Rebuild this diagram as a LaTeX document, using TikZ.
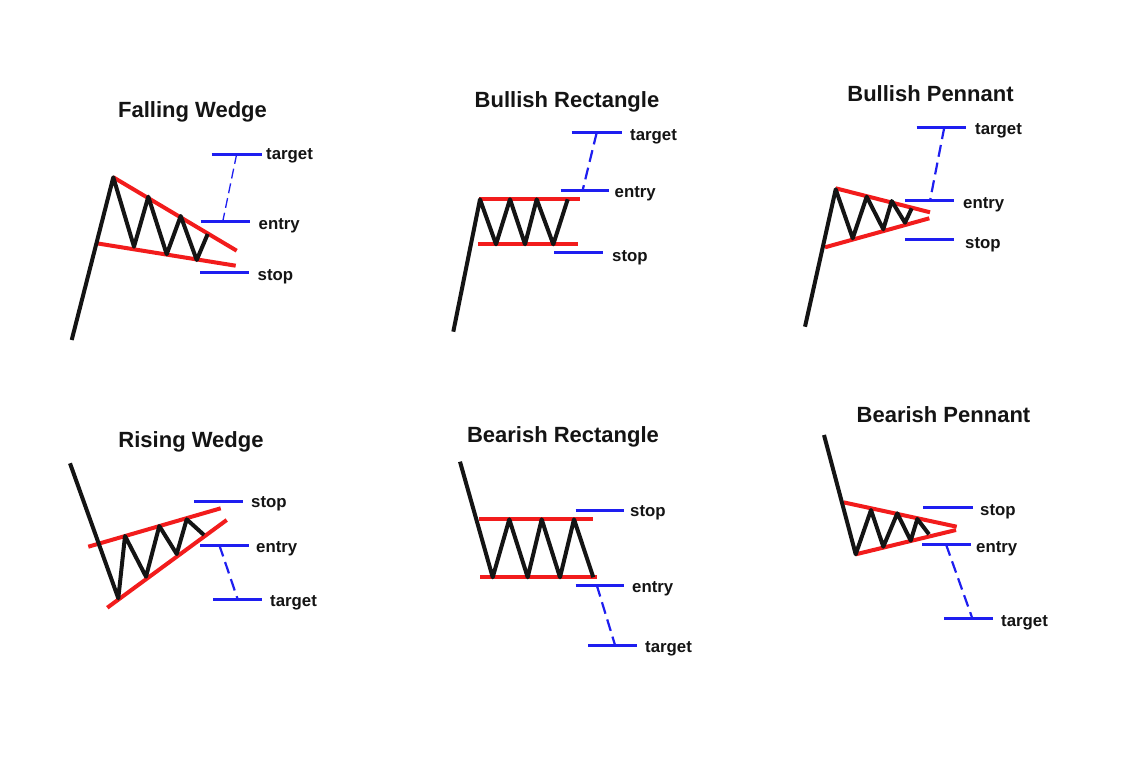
\documentclass[tikz,border=0pt]{standalone}
\usepackage{fontspec}
\setmainfont{Liberation Sans}
\definecolor{chred}{HTML}{F21C1C}
\definecolor{chblue}{HTML}{1E1EF0}
\definecolor{ink}{HTML}{141414}
\begin{document}
\begin{tikzpicture}[x=1pt,y=-1pt,
  price/.style={line width=4pt, ink, line join=round, line cap=butt},
  trend/.style={line width=4pt, chred},
  lvl/.style={line width=3pt, chblue},
  proj/.style={line width=2.2pt, chblue, dash pattern=on 12pt off 6pt},
  projthin/.style={line width=1.3pt, chblue, dash pattern=on 10pt off 5pt},
  ttl/.style={font=\bfseries\fontsize{22}{24}\selectfont, text=ink, inner sep=0pt, text height=15.8pt, text depth=4.6pt, yshift=-4pt},
  lbl/.style={font=\bfseries\fontsize{16.8}{18}\selectfont, text=ink, anchor=west, inner sep=0pt, text height=12.1pt, text depth=3.5pt, yshift=-3pt}]
\useasboundingbox[fill=white] (0,0) rectangle (1140,760);

% ---------- Falling Wedge ----------
\node[ttl] (t1) at (192.5,108) {Falling Wedge};
\draw[trend] (113.3,177.3) -- (236.7,250.7);
\draw[trend] (96.7,243.3) -- (235.7,265.7);
\draw[price] (71.7,340) -- (113.3,177.3) -- (134,246.7) -- (148.3,196.7) -- (166.7,254.3) -- (180.7,216) -- (196.7,260) -- (207.7,234);
\draw[lvl] (211.7,154) -- (261.7,154);
\draw[lvl] (200.7,221.7) -- (250,221.7);
\draw[lvl] (200,272.7) -- (249.3,272.7);
\draw[projthin] (236.7,154) -- (222.7,221.7);
\node[lbl] (a1) at (266,152.3) {target};
\node[lbl] (b1) at (258.5,222) {entry};
\node[lbl] (c1) at (257.5,273) {stop};

% ---------- Bullish Rectangle ----------
\node[ttl] (t2) at (567,98.3) {Bullish Rectangle};
\draw[trend] (479.3,199.3) -- (580,199.3);
\draw[trend] (478.3,244.3) -- (578.3,244.3);
\draw[price] (453.3,331.7) -- (480,199.3) -- (496,244.3) -- (510,199.3) -- (525,244.3) -- (536.7,199.3) -- (553.3,244.3) -- (567.7,199.3);
\draw[lvl] (571.7,132.7) -- (621.7,132.7);
\draw[lvl] (560.7,190) -- (609.3,190);
\draw[lvl] (554,252.7) -- (603.3,252.7);
\draw[proj] (596.7,132.7) -- (582.7,190);
\node[lbl] (a2) at (630,132.7) {target};
\node[lbl] (b2) at (614.5,190) {entry};
\node[lbl] (c2) at (612,254) {stop};

% ---------- Bullish Pennant ----------
\node[ttl] (t3) at (930.5,91.7) {Bullish Pennant};
\draw[trend] (835.7,188.3) -- (930,212.3);
\draw[trend] (825,247.3) -- (929.3,218.3);
\draw[price] (805,326.7) -- (835.7,189.3) -- (852.7,238.3) -- (866.7,196.7) -- (883.3,229.3) -- (891.7,201) -- (905,222.7) -- (911.7,208.3);
\draw[lvl] (916.7,127.3) -- (966,127.3);
\draw[lvl] (905,200.7) -- (954.3,200.7);
\draw[lvl] (905,239.3) -- (954.3,239.3);
\draw[proj] (944.3,127.3) -- (930,200.7);
\node[lbl] (a3) at (975,127.3) {target};
\node[lbl] (b3) at (963,200.7) {entry};
\node[lbl] (c3) at (965,240.7) {stop};

% ---------- Rising Wedge ----------
\node[ttl] (t4) at (191,438.3) {Rising Wedge};
\draw[trend] (88.3,546.7) -- (220.7,508.3);
\draw[trend] (107.3,607.7) -- (226.7,520);
\draw[price] (70,463.3) -- (118.3,598.3) -- (125,536) -- (146,576.7) -- (159.3,526) -- (176.7,554) -- (186.7,519.3) -- (204,535);
\draw[lvl] (194,501.7) -- (243.3,501.7);
\draw[lvl] (200,545) -- (249.3,545);
\draw[lvl] (213.3,599.3) -- (262.3,599.3);
\draw[proj] (219.3,545) -- (237.7,599.3);
\node[lbl] (a4) at (251,500) {stop};
\node[lbl] (b4) at (256,545) {entry};
\node[lbl] (c4) at (270,599.3) {target};

% ---------- Bearish Rectangle ----------
\node[ttl] (t5) at (563,433.3) {Bearish Rectangle};
\draw[trend] (479.3,519.3) -- (593.3,519.3);
\draw[trend] (480,577.3) -- (596.7,577.3);
\draw[price] (460,461.7) -- (492.7,577.3) -- (509.3,519.3) -- (527.7,577.3) -- (541.7,519.3) -- (560,577.3) -- (574,519.3) -- (593.3,577.3);
\draw[lvl] (575.7,510) -- (624,510);
\draw[lvl] (575.7,585) -- (624,585);
\draw[lvl] (588.3,645) -- (636.7,645);
\draw[proj] (596.7,585) -- (615,645);
\node[lbl] (a5) at (630,509.3) {stop};
\node[lbl] (b5) at (632,585) {entry};
\node[lbl] (c5) at (645,645) {target};

% ---------- Bearish Pennant ----------
\node[ttl] (t6) at (943.5,413.3) {Bearish Pennant};
\draw[trend] (843.3,502.3) -- (956.7,526.7);
\draw[trend] (855.7,554.3) -- (956,530);
\draw[price] (824,435) -- (855.7,554.3) -- (871,510) -- (883.3,546.7) -- (897.3,513.3) -- (910.7,540.7) -- (917.3,519) -- (929,534.3);
\draw[lvl] (923.3,507.7) -- (972.7,507.7);
\draw[lvl] (922.3,544.3) -- (971,544.3);
\draw[lvl] (944.3,618.3) -- (993.3,618.3);
\draw[proj] (946,544.3) -- (972.3,618.3);
\node[lbl] (a6) at (980,507.7) {stop};
\node[lbl] (b6) at (976,545) {entry};
\node[lbl] (c6) at (1001,619.3) {target};
\end{tikzpicture}
\end{document}
